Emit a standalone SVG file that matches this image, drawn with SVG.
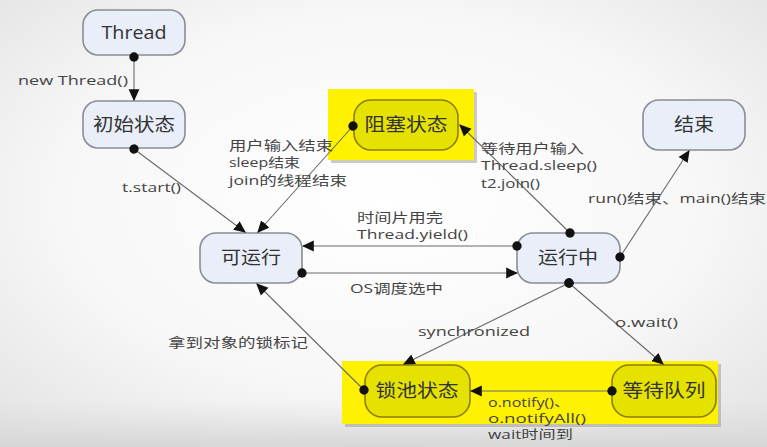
<svg xmlns="http://www.w3.org/2000/svg" width="767" height="447" viewBox="0 0 767 447">
<defs>
<radialGradient id="bg" cx="0.5" cy="0.45" r="0.7">
<stop offset="0" stop-color="#ffffff"/>
<stop offset="0.6" stop-color="#f7f7f7"/>
<stop offset="1" stop-color="#e4e4e4"/>
</radialGradient>
<linearGradient id="bot" x1="0" y1="0" x2="0" y2="1">
<stop offset="0" stop-color="#e0e0e0" stop-opacity="0"/>
<stop offset="1" stop-color="#d6d6d6" stop-opacity="1"/>
</linearGradient>
<marker id="arr" viewBox="0 0 10 10" refX="9" refY="5" markerWidth="12" markerHeight="12" markerUnits="userSpaceOnUse" orient="auto">
<path d="M0,0.5 L10,5 L0,9.5 Z" fill="#111"/>
</marker>
<marker id="dot" viewBox="0 0 12 12" refX="6" refY="6" markerWidth="10" markerHeight="10" markerUnits="userSpaceOnUse" orient="auto">
<circle cx="6" cy="6" r="5.6" fill="#111"/>
</marker>
</defs>
<style>
.n{fill:#e9eef8;stroke:#8a8d94;stroke-width:1.6}
.ny{fill:#e6e200;stroke:#8c7d00;stroke-width:1.6}
.yb{fill:#fff200}
.sh{fill:#9a9a8a;opacity:0.5}
.t{font-family:"Open Sans","Noto Sans CJK SC",sans-serif;font-size:18px;fill:#333;text-anchor:middle}
.l{font-family:"Open Sans","Noto Sans CJK SC",sans-serif;font-size:13px;fill:#444}
.s{font-size:12px}
.e{fill:none;stroke:#6a6a6a;stroke-width:1.1;marker-start:url(#dot);marker-end:url(#arr)}
</style>
<rect x="0" y="0" width="767" height="447" fill="url(#bg)"/>
<rect x="0" y="400" width="767" height="47" fill="url(#bot)"/>

<g id="block-area">
<rect class="sh" x="331" y="92" width="146" height="71"/>
<rect class="yb" x="328" y="89" width="146" height="71"/>
</g>
<g id="lock-area">
<rect class="sh" x="345" y="364" width="376" height="63"/>
<rect class="yb" x="342" y="361" width="376" height="63"/>
</g>

<g id="thread"><rect class="n" x="83" y="10" width="102" height="45" rx="15"/><text class="t" x="134" y="39" textLength="65" lengthAdjust="spacingAndGlyphs">Thread</text></g>
<g id="init"><rect class="n" x="83" y="101" width="102" height="47" rx="15"/><text class="t" x="134" y="131" textLength="82" lengthAdjust="spacingAndGlyphs">初始状态</text></g>
<g id="blocked"><rect class="ny" x="354" y="100" width="104" height="50" rx="17"/><text class="t" x="406" y="131" textLength="83" lengthAdjust="spacingAndGlyphs">阻塞状态</text></g>
<g id="end"><rect class="n" x="643" y="100" width="102" height="50" rx="16"/><text class="t" x="694" y="131" textLength="40" lengthAdjust="spacingAndGlyphs">结束</text></g>
<g id="runnable"><rect class="n" x="200" y="233" width="102" height="50" rx="16"/><text class="t" x="251" y="264" textLength="60" lengthAdjust="spacingAndGlyphs">可运行</text></g>
<g id="running"><rect class="n" x="517" y="233" width="103" height="50" rx="16"/><text class="t" x="568" y="264" textLength="60" lengthAdjust="spacingAndGlyphs">运行中</text></g>
<g id="lockpool"><rect class="ny" x="365" y="365" width="105" height="52" rx="17"/><text class="t" x="417" y="397" textLength="83" lengthAdjust="spacingAndGlyphs">锁池状态</text></g>
<g id="waitqueue"><rect class="ny" x="612" y="365" width="104" height="52" rx="17"/><text class="t" x="664" y="397" textLength="83" lengthAdjust="spacingAndGlyphs">等待队列</text></g>

<g id="connectors">
<line class="e" x1="134" y1="57" x2="134" y2="100"/>
<line class="e" x1="134" y1="149" x2="245" y2="232"/>
<line class="e" x1="353" y1="126" x2="258" y2="232"/>
<line class="e" x1="570" y1="233" x2="460" y2="125"/>
<line class="e" x1="620" y1="257" x2="689" y2="151"/>
<line class="e" x1="517" y1="246" x2="303" y2="246"/>
<line class="e" x1="302" y1="273" x2="517" y2="273"/>
<line class="e" x1="569" y1="283" x2="404" y2="364"/>
<line class="e" x1="569" y1="283" x2="663" y2="364"/>
<line class="e" x1="612" y1="391" x2="471" y2="391"/>
<line class="e" x1="364" y1="390" x2="257" y2="284"/>
</g>

<g id="labels">
<text class="l" x="18" y="85" textLength="110" lengthAdjust="spacingAndGlyphs">new Thread()</text>
<text class="l" x="122" y="192" textLength="59" lengthAdjust="spacingAndGlyphs">t.start()</text>
<text class="l" x="229" y="150" textLength="104" lengthAdjust="spacingAndGlyphs">用户输入结束</text>
<text class="l" x="229" y="167" textLength="71" lengthAdjust="spacingAndGlyphs">sleep结束</text>
<text class="l" x="229" y="185" textLength="118" lengthAdjust="spacingAndGlyphs">join的线程结束</text>
<text class="l" x="481" y="153" textLength="103" lengthAdjust="spacingAndGlyphs">等待用户输入</text>
<text class="l" x="481" y="170" textLength="116" lengthAdjust="spacingAndGlyphs">Thread.sleep()</text>
<text class="l" x="481" y="188" textLength="59" lengthAdjust="spacingAndGlyphs">t2.join()</text>
<text class="l" x="588" y="203" textLength="178" lengthAdjust="spacingAndGlyphs">run()结束、main()结束</text>
<text class="l" x="357" y="222" textLength="86" lengthAdjust="spacingAndGlyphs">时间片用完</text>
<text class="l" x="357" y="239" textLength="111" lengthAdjust="spacingAndGlyphs">Thread.yield()</text>
<text class="l" x="350" y="293" textLength="93" lengthAdjust="spacingAndGlyphs">OS调度选中</text>
<text class="l" x="418" y="336" textLength="112" lengthAdjust="spacingAndGlyphs">synchronized</text>
<text class="l" x="615" y="327" textLength="63" lengthAdjust="spacingAndGlyphs">o.wait()</text>
<text class="l" x="168" y="347" textLength="140" lengthAdjust="spacingAndGlyphs">拿到对象的锁标记</text>
<text class="l s" x="488" y="407" textLength="82" lengthAdjust="spacingAndGlyphs">o.notify()、</text>
<text class="l s" x="488" y="423" textLength="98" lengthAdjust="spacingAndGlyphs">o.notifyAll()</text>
<text class="l s" x="488" y="439" textLength="85" lengthAdjust="spacingAndGlyphs">wait时间到</text>
</g>
</svg>
